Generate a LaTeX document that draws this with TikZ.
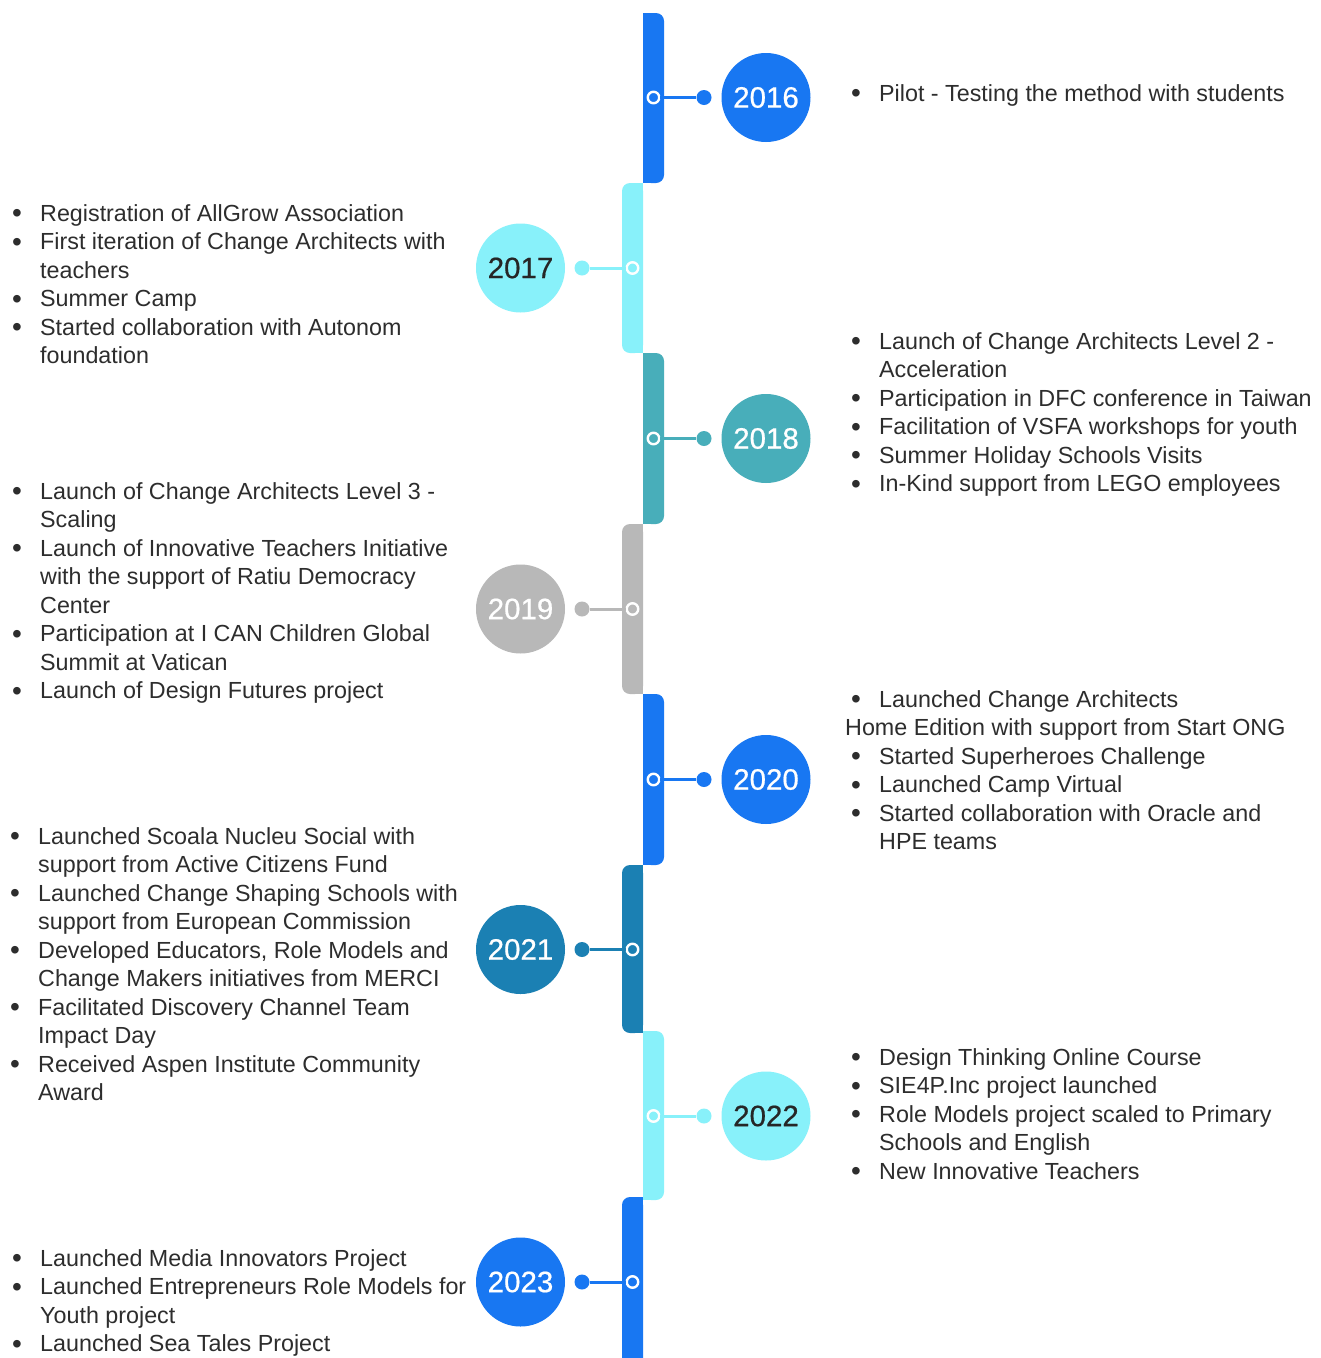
\documentclass[tikz,border=0pt]{standalone}
\usepackage{fontspec}
\setmainfont{Liberation Sans}
\newfontfamily\yearfont[FakeBold=0.6]{Liberation Sans}
\definecolor{tlblue}{RGB}{24,119,242}
\definecolor{tlcyan}{RGB}{136,241,250}
\definecolor{tlteal}{RGB}{72,174,186}
\definecolor{tlgray}{RGB}{184,184,184}
\definecolor{tldark}{RGB}{27,128,179}
\definecolor{txtgray}{RGB}{45,45,45}
\definecolor{yrdark}{RGB}{38,38,38}
\newcommand\bitem[1]{\makebox[28pt][l]{\raisebox{-1.8pt}{\fontsize{28}{28}\selectfont\textbullet}}#1}
\newcommand\bcont[1]{\hspace*{28pt}#1}
\begin{document}
\begin{tikzpicture}[x=1pt,y=-1pt,
  ring/.style={circle,draw=white,line width=2.4pt,minimum size=11.5pt,inner sep=0pt},
  dotnode/.style={circle,minimum size=15pt,inner sep=0pt},
  yearnode/.style={circle,minimum size=89pt,inner sep=0pt,font=\yearfont\fontsize{29.5}{29.5}\selectfont},
  link/.style={line width=3pt},
  itemblock/.style={anchor=base west,inner sep=0pt,text=txtgray,font=\fontsize{23.3}{28.5}\selectfont}
]
\useasboundingbox (0,0) rectangle (1321,1358);
\fill[white] (0,0) rectangle (1321,1358);

% timeline segments
\fill[tlblue,rounded corners=8pt] (643,13) rectangle (664,183);
\fill[tlblue] (643,13) rectangle (655,183);
\fill[tlcyan,rounded corners=8pt] (622,183) rectangle (643,353);
\fill[tlcyan] (631,183) rectangle (643,353);
\fill[tlteal,rounded corners=8pt] (643,353) rectangle (664,524);
\fill[tlteal] (643,353) rectangle (655,524);
\fill[tlgray,rounded corners=8pt] (622,524) rectangle (643,694);
\fill[tlgray] (631,524) rectangle (643,694);
\fill[tlblue,rounded corners=8pt] (643,694) rectangle (664,865);
\fill[tlblue] (643,694) rectangle (655,865);
\fill[tldark,rounded corners=8pt] (622,865) rectangle (643,1033);
\fill[tldark] (631,865) rectangle (643,1033);
\fill[tlcyan,rounded corners=8pt] (643,1031) rectangle (664,1200);
\fill[tlcyan] (643,1031) rectangle (655,1200);
\fill[tlblue,rounded corners=8pt] (622,1197) rectangle (643,1380);
\fill[tlblue] (631,1197) rectangle (643,1380);

% 2016
\node[ring,fill=tlblue] (r16) at (653.5,97.5) {};
\node[dotnode,fill=tlblue] (d16) at (704,97.5) {};
\node[yearnode,fill=tlblue,text=white] (y16) at (766,97.5) {2016};
\draw[link,tlblue] (r16) -- (d16);
% 2017
\node[ring,fill=tlcyan] (r17) at (632.5,268) {};
\node[dotnode,fill=tlcyan] (d17) at (582,268) {};
\node[yearnode,fill=tlcyan,text=yrdark] (y17) at (520.5,268) {2017};
\draw[link,tlcyan] (r17) -- (d17);
% 2018
\node[ring,fill=tlteal] (r18) at (653.5,438.5) {};
\node[dotnode,fill=tlteal] (d18) at (704,438.5) {};
\node[yearnode,fill=tlteal,text=white] (y18) at (766,438.5) {2018};
\draw[link,tlteal] (r18) -- (d18);
% 2019
\node[ring,fill=tlgray] (r19) at (632.5,609) {};
\node[dotnode,fill=tlgray] (d19) at (582,609) {};
\node[yearnode,fill=tlgray,text=white] (y19) at (520.5,609) {2019};
\draw[link,tlgray] (r19) -- (d19);
% 2020
\node[ring,fill=tlblue] (r20) at (653.5,779.5) {};
\node[dotnode,fill=tlblue] (d20) at (704,779.5) {};
\node[yearnode,fill=tlblue,text=white] (y20) at (766,779.5) {2020};
\draw[link,tlblue] (r20) -- (d20);
% 2021
\node[ring,fill=tldark] (r21) at (632.5,949.5) {};
\node[dotnode,fill=tldark] (d21) at (582,949.5) {};
\node[yearnode,fill=tldark,text=white] (y21) at (520.5,949.5) {2021};
\draw[link,tldark] (r21) -- (d21);
% 2022
\node[ring,fill=tlcyan] (r22) at (653.5,1116) {};
\node[dotnode,fill=tlcyan] (d22) at (704,1116) {};
\node[yearnode,fill=tlcyan,text=yrdark] (y22) at (766,1116) {2022};
\draw[link,tlcyan] (r22) -- (d22);
% 2023
\node[ring,fill=tlblue] (r23) at (632.5,1282) {};
\node[dotnode,fill=tlblue] (d23) at (582,1282) {};
\node[yearnode,fill=tlblue,text=white] (y23) at (520.5,1282) {2023};
\draw[link,tlblue] (r23) -- (d23);

% texts
\node[itemblock] (t16) at (851,101) {\begin{tabular}[t]{@{}l@{}}
\bitem{Pilot - Testing the method with students}
\end{tabular}};

\node[itemblock] (t17) at (12,221) {\begin{tabular}[t]{@{}l@{}}
\bitem{Registration of AllGrow Association}\\
\bitem{First iteration of Change Architects with}\\
\bcont{teachers}\\
\bitem{Summer Camp}\\
\bitem{Started collaboration with Autonom}\\
\bcont{foundation}
\end{tabular}};

\node[itemblock] (t18) at (851,349) {\begin{tabular}[t]{@{}l@{}}
\bitem{Launch of Change Architects Level 2 -}\\
\bcont{Acceleration}\\
\bitem{Participation in DFC conference in Taiwan}\\
\bitem{Facilitation of VSFA workshops for youth}\\
\bitem{Summer Holiday Schools Visits}\\
\bitem{In-Kind support from LEGO employees}
\end{tabular}};

\node[itemblock] (t19) at (12,499) {\begin{tabular}[t]{@{}l@{}}
\bitem{Launch of Change Architects Level 3 -}\\
\bcont{Scaling}\\
\bitem{Launch of Innovative Teachers Initiative}\\
\bcont{with the support of Ratiu Democracy}\\
\bcont{Center}\\
\bitem{Participation at I CAN Children Global}\\
\bcont{Summit at Vatican}\\
\bitem{Launch of Design Futures project}
\end{tabular}};

\node[itemblock] (t20) at (851,707) {\begin{tabular}[t]{@{}l@{}}
\bitem{Launched Change Architects}\\
\hspace*{-6pt}Home Edition with support from Start ONG\\
\bitem{Started Superheroes Challenge}\\
\bitem{Launched Camp Virtual}\\
\bitem{Started collaboration with Oracle and}\\
\bcont{HPE teams}
\end{tabular}};

\node[itemblock] (t21) at (10,844) {\begin{tabular}[t]{@{}l@{}}
\bitem{Launched Scoala Nucleu Social with}\\
\bcont{support from Active Citizens Fund}\\
\bitem{Launched Change Shaping Schools with}\\
\bcont{support from European Commission}\\
\bitem{Developed Educators, Role Models and}\\
\bcont{Change Makers initiatives from MERCI}\\
\bitem{Facilitated Discovery Channel Team}\\
\bcont{Impact Day}\\
\bitem{Received Aspen Institute Community}\\
\bcont{Award}
\end{tabular}};

\node[itemblock] (t22) at (851,1065) {\begin{tabular}[t]{@{}l@{}}
\bitem{Design Thinking Online Course}\\
\bitem{SIE4P.Inc project launched}\\
\bitem{Role Models project scaled to Primary}\\
\bcont{Schools and English}\\
\bitem{New Innovative Teachers}
\end{tabular}};

\node[itemblock] (t23) at (12,1266) {\begin{tabular}[t]{@{}l@{}}
\bitem{Launched Media Innovators Project}\\
\bitem{Launched Entrepreneurs Role Models for}\\
\bcont{Youth project}\\
\bitem{Launched Sea Tales Project}
\end{tabular}};
\end{tikzpicture}
\end{document}
